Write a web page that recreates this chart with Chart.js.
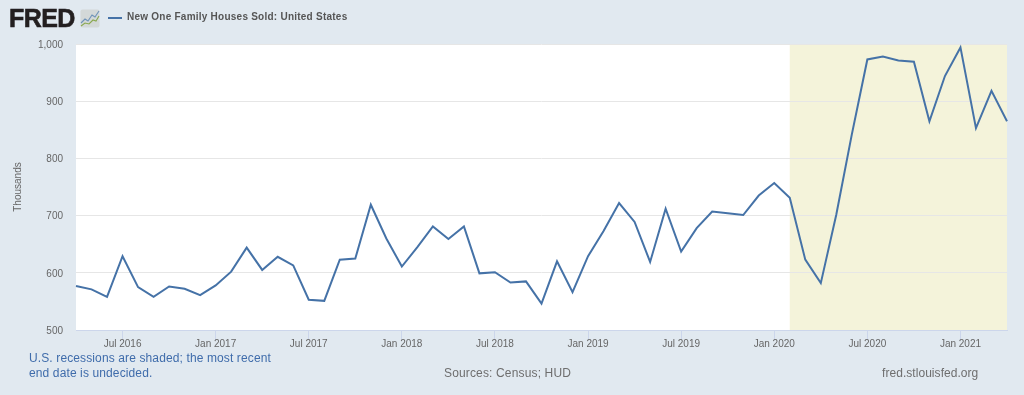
<!DOCTYPE html>
<html>
<head>
<meta charset="utf-8">
<script src="https://cdn.jsdelivr.net/npm/chart.js@4"></script>
<style>
html,body{margin:0;padding:0;width:1024px;height:395px;background:#e1e9f0;overflow:hidden;font-family:"Liberation Sans",Arial,sans-serif}
#wrap{position:relative;width:1024px;height:395px}
canvas{position:absolute;left:0;top:0}
.t{position:absolute;white-space:nowrap}
#logo{left:9px;top:4px;font-size:25px;line-height:28px;font-weight:bold;color:#231f20;letter-spacing:-.55px;-webkit-text-stroke:.6px #231f20}
#icon{position:absolute;left:80px;top:9px}
#key{position:absolute;left:108px;top:16.5px;width:14px;height:2px;background:#4572a7}
#title{left:127px;top:11px;font-size:10px;line-height:12px;font-weight:bold;color:#555;letter-spacing:.24px}
#note{left:29px;top:351px;font-size:12px;line-height:15px;color:#3f6cab;letter-spacing:.12px}
#src{left:444px;top:366px;font-size:12px;line-height:15px;color:#6e6e6e;letter-spacing:.15px}
#site{left:882px;top:366px;font-size:12px;line-height:15px;color:#6e6e6e;letter-spacing:.05px}
</style>
</head>
<body>
<div id="wrap">
<canvas id="c" width="1024" height="395"></canvas>
<div class="t" id="logo">FRED</div>
<svg id="icon" width="20" height="19" viewBox="0 0 20 19"><rect x="0.5" y="0.5" width="19" height="18" rx="2" fill="#d3d8d8"/><polyline points="1,14 5,10 8,12 12,6 15,8 19,2" fill="none" stroke="#6f93b8" stroke-width="1.1"/><polyline points="1,17 5,14 9,15 13,11 16,12 19,7" fill="none" stroke="#8aa84f" stroke-width="1.1"/></svg>
<div id="key"></div>
<div class="t" id="title">New One Family Houses Sold: United States</div>
<div class="t" id="note">U.S. recessions are shaded; the most recent<br>end date is undecided.</div>
<div class="t" id="src">Sources: Census; HUD</div>
<div class="t" id="site">fred.stlouisfed.org</div>
</div>
<script>
const months = [
"Apr 2016","May 2016","Jun 2016","Jul 2016","Aug 2016","Sep 2016","Oct 2016","Nov 2016","Dec 2016",
"Jan 2017","Feb 2017","Mar 2017","Apr 2017","May 2017","Jun 2017","Jul 2017","Aug 2017","Sep 2017","Oct 2017","Nov 2017","Dec 2017",
"Jan 2018","Feb 2018","Mar 2018","Apr 2018","May 2018","Jun 2018","Jul 2018","Aug 2018","Sep 2018","Oct 2018","Nov 2018","Dec 2018",
"Jan 2019","Feb 2019","Mar 2019","Apr 2019","May 2019","Jun 2019","Jul 2019","Aug 2019","Sep 2019","Oct 2019","Nov 2019","Dec 2019",
"Jan 2020","Feb 2020","Mar 2020","Apr 2020","May 2020","Jun 2020","Jul 2020","Aug 2020","Sep 2020","Oct 2020","Nov 2020","Dec 2020",
"Jan 2021","Feb 2021","Mar 2021","Apr 2021"];
const housesSold = [
577,571,558,629,575,558,576,572,561,
578,602,644,605,628,613,553,551,623,625,719,660,
611,645,681,659,681,599,601,583,585,546,620,566,
629,673,722,689,619,712,637,678,707,704,701,735,
757,731,623,582,702,842,973,978,971,969,865,944,
994,853,918,865];
const tickLabels = ["Jul 2016","Jan 2017","Jul 2017","Jan 2018","Jul 2018","Jan 2019","Jul 2019","Jan 2020","Jul 2020","Jan 2021"];
const recessionStart = "Feb 2020";
const recessionEnd = "Apr 2021";

const shading = {
  id:"shading",
  beforeDraw(chart){
    const {ctx,chartArea:a,scales:{x}} = chart;
    ctx.save();
    ctx.fillStyle="#ffffff";
    ctx.fillRect(a.left,a.top,a.width,a.height);
    const x0=x.getPixelForValue(months.indexOf(recessionStart));
    const x1=x.getPixelForValue(months.indexOf(recessionEnd));
    ctx.fillStyle="#f4f3da";
    ctx.fillRect(x0,a.top,x1-x0,a.height);
    ctx.restore();
  }
};

Chart.defaults.font.family='"Liberation Sans",Arial,sans-serif';
new Chart(document.getElementById("c"),{
  type:"line",
  data:{labels:months,datasets:[{
    label:"New One Family Houses Sold: United States",
    data:housesSold,borderColor:"#4572a7",borderWidth:2,pointRadius:0,tension:0,fill:false,
    borderJoinStyle:"miter"
  }]},
  plugins:[shading],
  options:{
    responsive:false,animation:false,
    layout:{padding:{top:44,right:17,left:0,bottom:0}},
    plugins:{legend:{display:false},tooltip:{enabled:false}},
    scales:{
      x:{
        type:"category",offset:false,
        afterBuildTicks(s){s.ticks=s.ticks.filter(t=>tickLabels.includes(months[t.value]));},
        afterFit(s){s.height=65;},
        grid:{drawOnChartArea:false,drawTicks:true,tickLength:10,color:"#ccd6eb",lineWidth:1},
        border:{color:"#ccd6eb",width:1},
        ticks:{autoSkip:false,maxRotation:0,minRotation:0,padding:-2,color:"#666666",font:{size:10},
          callback(v){return months[v];}}
      },
      y:{
        min:500,max:1000,
        afterFit(s){s.width=76;},
        grid:{color:"#e6e6e6",lineWidth:1,drawTicks:false},
        border:{display:false},
        title:{display:true,text:"Thousands",color:"#666666",font:{size:10},padding:{top:12,bottom:0}},
        ticks:{stepSize:100,padding:13,labelOffset:1,color:"#666666",font:{size:10},
          callback(v){return v.toLocaleString("en-US");}}
      }
    }
  }
});
</script>
</body>
</html>
